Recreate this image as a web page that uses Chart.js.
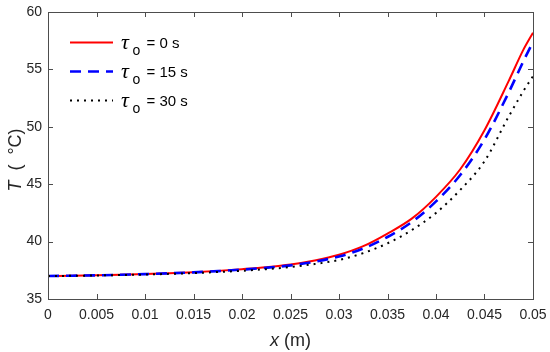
<!DOCTYPE html>
<html>
<head>
<meta charset="utf-8">
<script src="https://cdn.jsdelivr.net/npm/chart.js@4.4.1/dist/chart.umd.min.js"></script>
<style>
  html, body { margin: 0; padding: 0; background: #fff; }
  #wrap { width: 550px; height: 352px; }
</style>
</head>
<body>
<div id="wrap"><canvas id="chart" width="550" height="352"></canvas></div>
<script>
// x positions (m)
const xValues = [0, 0.0025, 0.005, 0.0075, 0.01, 0.0125, 0.015, 0.0175, 0.02, 0.0225,
  0.025, 0.0275, 0.03, 0.0325, 0.035, 0.0375, 0.04, 0.0425, 0.045, 0.0475, 0.049, 0.05];

// temperature (°C) for each delay time
const tau0 = [37.0, 37.03, 37.07, 37.12, 37.18, 37.25, 37.34, 37.45, 37.6, 37.77,
  38.0, 38.35, 38.85, 39.6, 40.7, 42.0, 43.9, 46.3, 49.7, 54.0, 56.7, 58.2];
const tau15 = [37.0, 37.03, 37.06, 37.11, 37.17, 37.24, 37.32, 37.43, 37.56, 37.72,
  37.93, 38.25, 38.7, 39.4, 40.4, 41.7, 43.5, 45.8, 48.9, 53.0, 55.7, 57.4];
const tau30 = [37.0, 37.02, 37.05, 37.09, 37.13, 37.19, 37.26, 37.35, 37.46, 37.6,
  37.78, 38.05, 38.4, 39.0, 39.85, 41.0, 42.5, 44.5, 47.0, 50.9, 53.1, 54.4];

const delayLabels = ['0', '15', '30'];
const lineColors = ['#ff0000', '#0000ff', '#000000'];

const xTicks = [0, 0.005, 0.01, 0.015, 0.02, 0.025, 0.03, 0.035, 0.04, 0.045, 0.05];
const xTickLabels = ['0', '0.005', '0.01', '0.015', '0.02', '0.025', '0.03', '0.035', '0.04', '0.045', '0.05'];
const yTicks = [35, 40, 45, 50, 55, 60];
const yTickLabels = ['35', '40', '45', '50', '55', '60'];

const tickFont = { family: 'Liberation Sans, Arial, sans-serif', size: 14 };
const series = [tau0, tau15, tau30];
const dashes = [[], [11, 7], [2, 5]];
const widths = [2, 2.6, 2];

function toPoints(ys) {
  return xValues.map((x, i) => ({ x: x, y: ys[i] }));
}

// box, inward ticks, axis titles and legend drawn like the original
const matlabBox = {
  id: 'matlabBox',
  afterDraw(chart) {
    const ctx = chart.ctx;
    const a = chart.chartArea;
    const xs = chart.scales.x;
    const ys = chart.scales.y;
    ctx.save();
    ctx.strokeStyle = '#4d4d4d';
    ctx.lineWidth = 1;
    ctx.strokeRect(a.left + 0.5, a.top + 0.5, a.right - a.left, a.bottom - a.top);
    ctx.beginPath();
    xTicks.forEach(v => {
      const px = Math.round(xs.getPixelForValue(v)) + 0.5;
      ctx.moveTo(px, a.bottom); ctx.lineTo(px, a.bottom - 5);
      ctx.moveTo(px, a.top); ctx.lineTo(px, a.top + 5);
    });
    yTicks.forEach(v => {
      const py = Math.round(ys.getPixelForValue(v)) + 0.5;
      ctx.moveTo(a.left, py); ctx.lineTo(a.left + 5, py);
      ctx.moveTo(a.right, py); ctx.lineTo(a.right - 5, py);
    });
    ctx.stroke();

    // x title: "x (m)"
    ctx.fillStyle = '#262626';
    ctx.textBaseline = 'alphabetic';
    ctx.textAlign = 'left';
    const italic = 'italic 18px Liberation Sans, Arial, sans-serif';
    const normal = '18px Liberation Sans, Arial, sans-serif';
    ctx.font = italic;
    const wx = ctx.measureText('x').width;
    ctx.font = normal;
    const wrest = ctx.measureText(' (m)').width;
    let sx = (a.left + a.right) / 2 - (wx + wrest) / 2;
    ctx.font = italic; ctx.fillText('x', sx, 346);
    ctx.font = normal; ctx.fillText(' (m)', sx + wx, 346);

    // y title: "T ( °C)"
    ctx.save();
    ctx.translate(21, 160);
    ctx.rotate(-Math.PI / 2);
    ctx.font = italic;
    const wt = ctx.measureText('T').width;
    ctx.font = normal;
    const wu = ctx.measureText('  (  °C)').width;
    const sy = -(wt + wu) / 2;
    ctx.font = italic; ctx.fillText('T', sy, 0);
    ctx.font = normal; ctx.fillText('  (  °C)', sy + wt, 0);
    ctx.restore();

    // legend
    chart.data.datasets.forEach((ds, i) => {
      const y = 42.5 + i * 29;
      ctx.strokeStyle = ds.borderColor;
      ctx.lineWidth = ds.borderWidth;
      ctx.setLineDash(ds.borderDash || []);
      ctx.beginPath();
      ctx.moveTo(70, y); ctx.lineTo(113, y);
      ctx.stroke();
      ctx.setLineDash([]);
      ctx.fillStyle = '#000';
      ctx.font = 'italic 22px Liberation Serif, Times New Roman, serif';
      ctx.fillText('τ', 121, y + 6.5);
      ctx.font = '14px Liberation Sans, Arial, sans-serif';
      ctx.fillText('o', 132.5, y + 12);
      ctx.font = '15px Liberation Sans, Arial, sans-serif';
      ctx.fillText('= ' + delayLabels[i] + ' s', 146.5, y + 5.5);
    });
    ctx.restore();
  }
};

new Chart(document.getElementById('chart'), {
  type: 'line',
  data: {
    datasets: series.map((ys, i) => ({
      label: 'τo = ' + delayLabels[i] + ' s',
      data: toPoints(ys),
      borderColor: lineColors[i],
      backgroundColor: lineColors[i],
      borderWidth: widths[i],
      borderDash: dashes[i],
      pointRadius: 0,
      cubicInterpolationMode: 'monotone',
      fill: false,
      order: 3 - i
    }))
  },
  options: {
    responsive: false,
    animation: false,
    devicePixelRatio: 1,
    layout: { padding: { top: 12, right: 17, left: 0, bottom: 0 } },
    plugins: {
      legend: { display: false },
      tooltip: { enabled: false }
    },
    scales: {
      x: {
        type: 'linear',
        min: 0,
        max: 0.05,
        afterBuildTicks: s => { s.ticks = xTicks.map(v => ({ value: v })); },
        afterFit: s => { s.height = 53; s.paddingLeft = 0; s.paddingRight = 0; },
        grid: { display: false, drawTicks: false },
        border: { display: false },
        ticks: {
          callback: (v, i) => xTickLabels[i],
          font: tickFont,
          color: '#262626',
          padding: 8,
          maxRotation: 0,
          autoSkip: false
        }
      },
      y: {
        type: 'linear',
        min: 35,
        max: 60,
        afterBuildTicks: s => { s.ticks = yTicks.map(v => ({ value: v })); },
        afterFit: s => { s.width = 48; s.paddingTop = 0; s.paddingBottom = 0; },
        grid: { display: false, drawTicks: false },
        border: { display: false },
        ticks: {
          callback: (v, i) => yTickLabels[i],
          font: tickFont,
          color: '#262626',
          padding: 6,
          autoSkip: false
        }
      }
    }
  },
  plugins: [matlabBox]
});
</script>
</body>
</html>
